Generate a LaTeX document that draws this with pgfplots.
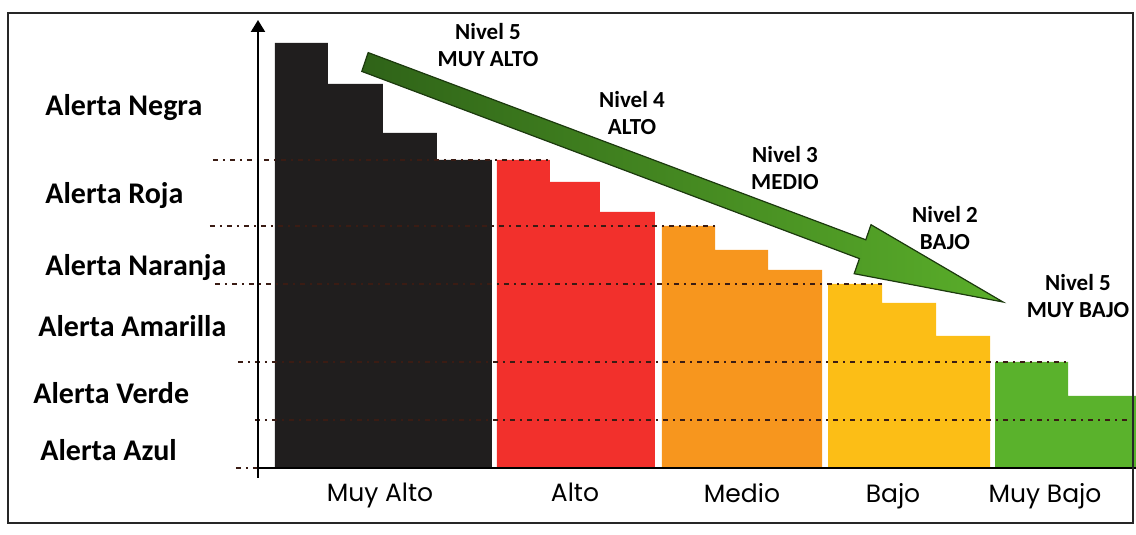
\documentclass[border=0pt]{standalone}
\usepackage{fontspec}
\setmainfont{Carlito}
\newfontfamily\gothic{Poppins}
\usepackage{pgfplots}
\pgfplotsset{compat=1.18}
\usetikzlibrary{arrows.meta}
\definecolor{cblack}{HTML}{201E1E}
\definecolor{cred}{HTML}{F2302C}
\definecolor{corange}{HTML}{F7961E}
\definecolor{cyellow}{HTML}{FCBE16}
\definecolor{cgreen}{HTML}{5AB22C}
\definecolor{arrdark}{HTML}{2F6318}
\definecolor{arrlight}{HTML}{5AAE2A}
\definecolor{arredge}{HTML}{1C3A0E}
\definecolor{dotc}{HTML}{3A1C14}
\begin{document}
\begin{tikzpicture}
\begin{axis}[
  x=0.5pt, y=0.5pt,
  xmin=258, xmax=1136, ymin=0, ymax=448,
  clip=false,
  axis line style={draw=none},
  ytick=\empty,
  xtick={380,575,742,893,1045},
  xticklabels={Muy Alto, Alto, Medio, Bajo, Muy Bajo},
  major tick length=0pt,
  xticklabel style={font=\gothic\fontsize{12.5}{14}\selectfont, yshift=-4pt},
  dl/.style={draw=dotc, line width=1.3pt, dash pattern=on 2.5pt off 2.5pt on 1pt off 2.5pt},
]
% stepped bars
\addplot[fill=cblack, draw=none, const plot] coordinates {(275,425) (328,384) (383,335) (437,308) (492,308)} \closedcycle;
\addplot[fill=cred, draw=none, const plot] coordinates {(497,308) (550,286) (600,256) (655,256)} \closedcycle;
\addplot[fill=corange, draw=none, const plot] coordinates {(662,242) (715,218) (768,198) (822,198)} \closedcycle;
\addplot[fill=cyellow, draw=none, const plot] coordinates {(828,184) (882,165) (936,132) (990,132)} \closedcycle;
\addplot[fill=cgreen, draw=none, const plot] coordinates {(995,106) (1068,72) (1136,72)} \closedcycle;
% dash-dot level lines
\addplot[dl] coordinates {(213,308) (550,308)};
\addplot[dl] coordinates {(210,242) (715,242)};
\addplot[dl] coordinates {(215,184) (882,184)};
\addplot[dl] coordinates {(238,106) (1068,106)};
\addplot[dl] coordinates {(255,48) (1136,48)};
\addplot[dl] coordinates {(236,0) (258,0)};
% axes
\draw[line width=1.1pt] (axis cs:258,0) -- (axis cs:1136,0);
\draw[line width=1.1pt, -{Triangle[width=7pt,length=6pt]}] (axis cs:258,-10) -- (axis cs:258,448);
% green arrow
\fill[left color=arrdark, right color=arrlight, draw=arredge, line width=0.6pt]
  (axis cs:368.2,415.4) -- (axis cs:865.8,228.2) -- (axis cs:871.0,243.3) -- (axis cs:1003,166)
  -- (axis cs:854.2,194.3) -- (axis cs:859.4,209.4) -- (axis cs:361.8,396.6) -- cycle;
% level labels
\begin{scope}[every node/.style={align=center, font=\bfseries\fontsize{11.5}{13.5}\selectfont}]
\node at (axis cs:488,423) {Nivel 5\\MUY ALTO};
\node at (axis cs:632,354.5) {Nivel 4\\ALTO};
\node at (axis cs:785,299.5) {Nivel 3\\MEDIO};
\node at (axis cs:945,239.5) {Nivel 2\\BAJO};
\node at (axis cs:1078,171.5) {Nivel 5\\MUY BAJO};
\end{scope}
% alert labels
\begin{scope}[every node/.style={anchor=west, inner sep=0pt, font=\bfseries\fontsize{15}{17}\selectfont}]
\node at (axis cs:45,360) {Alerta Negra};
\node at (axis cs:45,272) {Alerta Roja};
\node at (axis cs:45,200) {Alerta Naranja};
\node at (axis cs:38,142) {Alerta Amarilla};
\node at (axis cs:33,75) {Alerta Verde};
\node at (axis cs:40,18) {Alerta Azul};
\end{scope}
% frame
\draw[line width=1.2pt, black!85] (axis cs:8,455) rectangle (axis cs:1133,-55);
\coordinate (bl) at (axis cs:0,-67);
\coordinate (tr) at (axis cs:1136,468);
\end{axis}
\pgfresetboundingbox
\path (bl) rectangle (tr);
\end{tikzpicture}
\end{document}
